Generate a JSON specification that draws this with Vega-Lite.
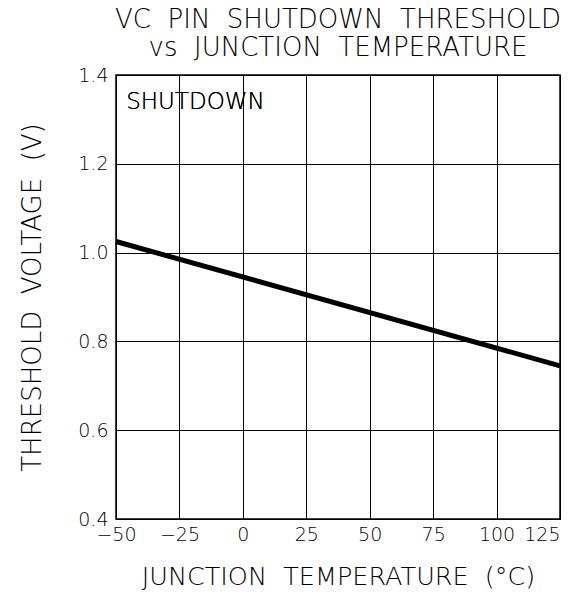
{
  "$schema": "https://vega.github.io/schema/vega-lite/v6.json",
  "autosize": "none",
  "width": 444,
  "height": 444,
  "padding": {"left": 116, "top": 75, "right": 16, "bottom": 77},
  "background": "white",
  "title": {
    "text": ["VC\u00a0\u00a0PIN\u00a0\u00a0SHUTDOWN\u00a0\u00a0THRESHOLD", "vs\u00a0\u00a0JUNCTION\u00a0\u00a0TEMPERATURE"],
    "anchor": "middle",
    "font": "DejaVu Sans",
    "fontWeight": 300,
    "fontSize": 26,
    "color": "black",
    "lineHeight": 28,
    "offset": 5
  },
  "config": {
    "view": {"stroke": "black", "strokeWidth": 1.5},
    "font": "DejaVu Sans",
    "axis": {
      "domain": false,
      "ticks": false,
      "grid": true,
      "gridColor": "black",
      "gridOpacity": 1,
      "gridWidth": 1,
      "labelFont": "DejaVu Sans",
      "labelFontWeight": 300,
      "labelFontSize": 19,
      "labelColor": "black",
      "titleFont": "DejaVu Sans",
      "titleFontWeight": 300,
      "titleColor": "black"
    }
  },
  "data": {
    "values": [
      {"temp": -50, "volt": 1.025},
      {"temp": 125, "volt": 0.745}
    ]
  },
  "layer": [
    {
      "mark": {"type": "line", "color": "black", "strokeWidth": 5},
      "encoding": {
        "x": {
          "field": "temp",
          "type": "quantitative",
          "scale": {"domain": [-50, 125], "nice": false, "zero": false},
          "axis": {
            "values": [-50, -25, 0, 25, 50, 75, 100, 125],
            "title": "JUNCTION\u00a0\u00a0TEMPERATURE\u00a0\u00a0(°C)",
            "titleFontSize": 25.5,
            "titlePadding": 20,
            "labelPadding": 6,
            "labelFlush": false,
            "labelAlign": {"condition": {"test": "datum.value == 125", "value": "right"}, "value": "center"}
          }
        },
        "y": {
          "field": "volt",
          "type": "quantitative",
          "scale": {"domain": [0.4, 1.4], "nice": false, "zero": false},
          "axis": {
            "values": [0.4, 0.6, 0.8, 1.0, 1.2, 1.4],
            "format": ".1f",
            "title": "THRESHOLD\u00a0\u00a0VOLTAGE\u00a0\u00a0(V)",
            "titleFontSize": 26,
            "titlePadding": 32,
            "labelPadding": 8
          }
        }
      }
    },
    {
      "mark": {"type": "text", "text": "SHUTDOWN", "font": "DejaVu Sans", "fontWeight": 300, "fontSize": 23, "align": "left", "baseline": "middle", "color": "black"},
      "encoding": {
        "x": {"datum": -46},
        "y": {"datum": 1.34}
      }
    }
  ]
}
